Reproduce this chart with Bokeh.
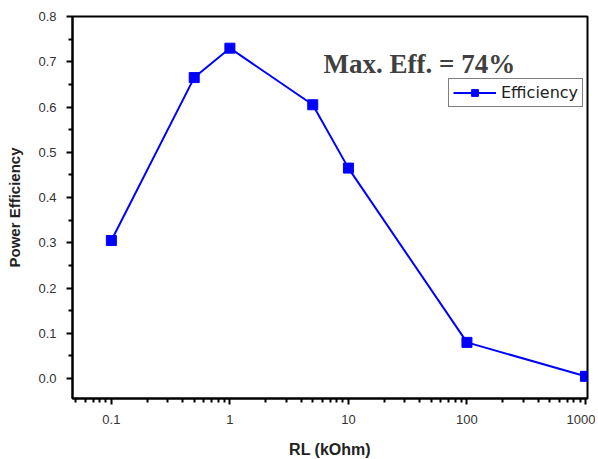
from bokeh.plotting import figure
from bokeh.models import FixedTicker, NumeralTickFormatter, CustomJSTickFormatter, Label, Range1d, Legend, LegendItem
from bokeh.embed import file_html
from bokeh.resources import INLINE

rl_kohm = [0.1, 0.5, 1, 5, 10, 100, 1000]
efficiency = [0.305, 0.665, 0.73, 0.605, 0.465, 0.08, 0.005]
x_ticks = [0.1, 1, 10, 100, 1000]
y_ticks = [0.0, 0.1, 0.2, 0.3, 0.4, 0.5, 0.6, 0.7, 0.8]

x_minor = []
for dec in [0.01, 0.1, 1, 10, 100, 1000]:
    for k in range(2, 10):
        x_minor.append(dec * k)
y_minor = [round(0.05 + 0.1 * i, 2) for i in range(8)]

p = figure(x_axis_type="log", output_backend="svg", toolbar_location=None,
           frame_width=515, frame_height=382,
           min_border_left=72, min_border_right=8, min_border_top=16, min_border_bottom=58,
           x_range=Range1d(0.047, 1040), y_range=Range1d(-0.044, 0.8))

p.xgrid.visible = False
p.ygrid.visible = False
p.outline_line_color = "black"
p.outline_line_width = 2
p.outline_line_alpha = 1

r_line = p.line(rl_kohm, efficiency, line_color="#0000ff", line_width=2)
r_sq = p.scatter(rl_kohm, efficiency, marker="square", size=10, fill_color="#0000ff", line_color="#0000ff")

p.xaxis.ticker = FixedTicker(ticks=x_ticks, minor_ticks=x_minor)
p.xaxis.formatter = CustomJSTickFormatter(code="return tick.toString();")
p.yaxis.ticker = FixedTicker(ticks=y_ticks, minor_ticks=y_minor)
p.yaxis.formatter = NumeralTickFormatter(format="0.0")

for ax in [p.xaxis[0], p.yaxis[0]]:
    ax.axis_line_width = 2
    ax.axis_line_color = "black"
    ax.major_tick_line_width = 2
    ax.major_tick_line_color = "black"
    ax.minor_tick_line_width = 2
    ax.minor_tick_line_color = "black"
    ax.major_tick_out = 6
    ax.major_tick_in = 0
    ax.minor_tick_out = 4
    ax.minor_tick_in = 0
    ax.major_label_text_font = "Liberation Sans"
    ax.major_label_text_font_size = "13px"
    ax.major_label_text_color = "#333333"
    ax.axis_label_text_font = "Liberation Sans"
    ax.axis_label_text_font_size = "15px"
    ax.axis_label_text_font_style = "bold"
    ax.axis_label_text_color = "#222222"

p.xaxis.axis_label = "RL (kOhm)"
p.yaxis.axis_label = "Power Efficiency"
p.xaxis.axis_label_text_font_size = "16px"
p.xaxis.major_label_standoff = 10
p.yaxis.major_label_standoff = 10
p.xaxis.axis_label_standoff = 14
p.yaxis.axis_label_standoff = 12

lbl = Label(x=6.17, y=0.696, text="Max. Eff. = 74%", text_font="Liberation Serif",
            text_font_size="27px", text_font_style="bold", text_color="#404040",
            text_baseline="alphabetic")
p.add_layout(lbl)

legend = Legend(items=[LegendItem(label="Efficiency", renderers=[r_line, r_sq])],
                location=(376, 291), orientation="vertical")
legend.border_line_color = "black"
legend.border_line_width = 1.5
legend.label_text_font = "DejaVu Sans"
legend.label_text_font_size = "16px"
legend.label_text_color = "#222222"
legend.glyph_width = 43
legend.glyph_height = 17
legend.padding = 4
legend.spacing = 0
legend.margin = 0
legend.label_standoff = 5
legend.label_height = 17
legend.background_fill_alpha = 1
p.add_layout(legend)

open("out.html", "w").write(file_html(p, INLINE))
